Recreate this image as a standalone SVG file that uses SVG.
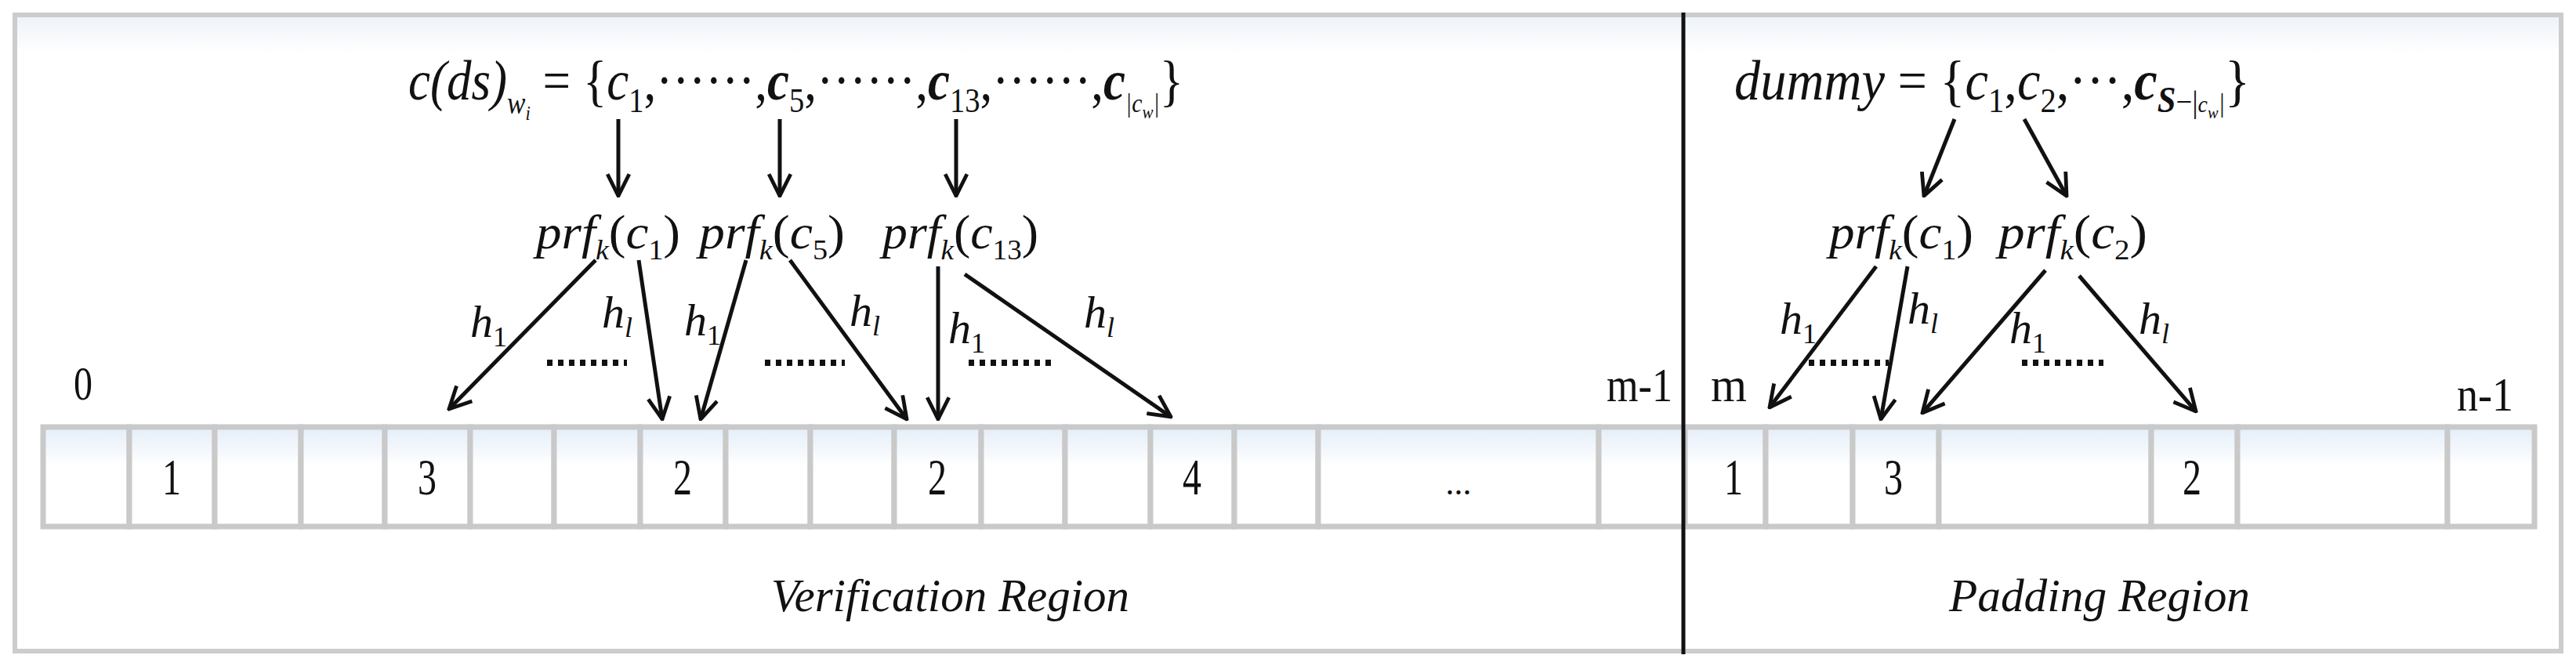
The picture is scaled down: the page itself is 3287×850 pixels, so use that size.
<svg xmlns="http://www.w3.org/2000/svg" width="3287" height="850" viewBox="0 0 3287 850">
<defs>
<linearGradient id="cg" x1="0" y1="0" x2="0" y2="1"><stop offset="0" stop-color="#e4eef8"/><stop offset="0.4" stop-color="#ffffff"/><stop offset="1" stop-color="#ffffff"/></linearGradient>
<linearGradient id="bg" x1="0" y1="0" x2="0" y2="1"><stop offset="0" stop-color="#edf3f9"/><stop offset="0.06" stop-color="#ffffff"/><stop offset="1" stop-color="#ffffff"/></linearGradient>
<marker id="ah" viewBox="0 0 30 30" refX="28" refY="15" markerWidth="32" markerHeight="32" markerUnits="userSpaceOnUse" orient="auto"><polyline points="2,2 28,15 2,28" fill="none" stroke="#111" stroke-width="4.5"/></marker>
<style>
.t{font-family:"Liberation Serif",serif;fill:#111}
.i{font-style:italic}
.b{font-weight:bold}
.cell{fill:url(#cg);stroke:#c9c9c9;stroke-width:7}
.ar{stroke:#111;stroke-width:5;fill:none;marker-end:url(#ah)}
.dots{stroke:#111;stroke-width:8;stroke-dasharray:7 7}
</style>
</defs>
<rect x="19" y="19" width="3249" height="812" fill="url(#bg)" stroke="#cccccc" stroke-width="6"/>
<g id="cells">
<rect class="cell" x="55" y="545" width="110" height="127"/>
<rect class="cell" x="165" y="545" width="109" height="127"/>
<rect class="cell" x="274" y="545" width="110" height="127"/>
<rect class="cell" x="384" y="545" width="107" height="127"/>
<rect class="cell" x="491" y="545" width="109" height="127"/>
<rect class="cell" x="600" y="545" width="107" height="127"/>
<rect class="cell" x="707" y="545" width="110" height="127"/>
<rect class="cell" x="817" y="545" width="109" height="127"/>
<rect class="cell" x="926" y="545" width="108" height="127"/>
<rect class="cell" x="1034" y="545" width="107" height="127"/>
<rect class="cell" x="1141" y="545" width="111" height="127"/>
<rect class="cell" x="1252" y="545" width="107" height="127"/>
<rect class="cell" x="1359" y="545" width="109" height="127"/>
<rect class="cell" x="1468" y="545" width="107" height="127"/>
<rect class="cell" x="1575" y="545" width="107" height="127"/>
<rect class="cell" x="1682" y="545" width="358" height="127"/>
<rect class="cell" x="2040" y="545" width="110" height="127"/>
<rect class="cell" x="2150" y="545" width="103" height="127"/>
<rect class="cell" x="2253" y="545" width="111" height="127"/>
<rect class="cell" x="2364" y="545" width="110" height="127"/>
<rect class="cell" x="2474" y="545" width="271" height="127"/>
<rect class="cell" x="2745" y="545" width="110" height="127"/>
<rect class="cell" x="2855" y="545" width="268" height="127"/>
<rect class="cell" x="3123" y="545" width="111" height="127"/>
</g>
<g id="cell-labels" class="t" font-size="66" text-anchor="middle">
<text x="219" y="631" textLength="24" lengthAdjust="spacingAndGlyphs">1</text><text x="545" y="631" textLength="24" lengthAdjust="spacingAndGlyphs">3</text><text x="871" y="631" textLength="24" lengthAdjust="spacingAndGlyphs">2</text><text x="1196" y="631" textLength="24" lengthAdjust="spacingAndGlyphs">2</text><text x="1521" y="631" textLength="24" lengthAdjust="spacingAndGlyphs">4</text>
<text x="1861" y="631" font-size="44">...</text>
<text x="2212" y="631" textLength="24" lengthAdjust="spacingAndGlyphs">1</text><text x="2416" y="631" textLength="24" lengthAdjust="spacingAndGlyphs">3</text><text x="2797" y="631" textLength="24" lengthAdjust="spacingAndGlyphs">2</text>
</g>
<g id="index-labels" class="t" font-size="62" text-anchor="middle">
<text x="106" y="510" textLength="24" lengthAdjust="spacingAndGlyphs">0</text><text x="2092" y="512" textLength="84" lengthAdjust="spacingAndGlyphs">m-1</text><text x="2206" y="512" textLength="46" lengthAdjust="spacingAndGlyphs">m</text><text x="3171" y="524" textLength="72" lengthAdjust="spacingAndGlyphs">n-1</text>
</g>
<line id="divider" x1="2148" y1="16" x2="2148" y2="835" stroke="#111" stroke-width="5"/>
<g id="formula-left" class="t i">
<text x="521" y="127" font-size="72" textLength="989" lengthAdjust="spacingAndGlyphs">c(ds)<tspan font-size="40" dy="18">w<tspan font-size="26" dy="8">i</tspan></tspan><tspan font-style="normal" dy="-26"> = {</tspan>c<tspan font-style="normal" font-size="44" dy="16">1</tspan><tspan font-style="normal" dy="-16">,······,</tspan><tspan class="b">c</tspan><tspan font-style="normal" font-size="44" dy="16">5</tspan><tspan font-style="normal" dy="-16">,······,</tspan><tspan class="b">c</tspan><tspan font-style="normal" font-size="44" dy="16">13</tspan><tspan font-style="normal" dy="-16">,······,</tspan><tspan class="b">c</tspan><tspan font-size="34" dy="16">|c</tspan><tspan font-size="24" dy="8">w</tspan><tspan font-size="34" dy="-8">|</tspan><tspan font-style="normal" dy="-16">}</tspan></text>
</g>
<g id="formula-right" class="t i">
<text x="2213" y="127" font-size="72" textLength="658" lengthAdjust="spacingAndGlyphs">dummy<tspan font-style="normal"> = {</tspan>c<tspan font-style="normal" font-size="44" dy="16">1</tspan><tspan font-style="normal" dy="-16">,</tspan>c<tspan font-style="normal" font-size="44" dy="16">2</tspan><tspan font-style="normal" dy="-16">,···,</tspan><tspan class="b">c</tspan><tspan class="b" font-size="46" dy="16">S</tspan><tspan font-style="normal" font-size="40">−|</tspan><tspan font-size="30">c</tspan><tspan font-size="22" dy="8">w</tspan><tspan font-size="34" dy="-8">|</tspan><tspan font-style="normal" dy="-16">}</tspan></text>
</g>
<g id="prf-nodes" class="t i" font-size="62">
<text x="684" y="317" textLength="184" lengthAdjust="spacingAndGlyphs">prf<tspan font-size="36" dy="14">k</tspan><tspan font-style="normal" dy="-14">(</tspan>c<tspan font-style="normal" font-size="36" dy="14">1</tspan><tspan font-style="normal" dy="-14">)</tspan></text>
<text x="892" y="317" textLength="186" lengthAdjust="spacingAndGlyphs">prf<tspan font-size="36" dy="14">k</tspan><tspan font-style="normal" dy="-14">(</tspan>c<tspan font-style="normal" font-size="36" dy="14">5</tspan><tspan font-style="normal" dy="-14">)</tspan></text>
<text x="1126" y="317" textLength="199" lengthAdjust="spacingAndGlyphs">prf<tspan font-size="36" dy="14">k</tspan><tspan font-style="normal" dy="-14">(</tspan>c<tspan font-style="normal" font-size="36" dy="14">13</tspan><tspan font-style="normal" dy="-14">)</tspan></text>
<text x="2334" y="317" textLength="184" lengthAdjust="spacingAndGlyphs">prf<tspan font-size="36" dy="14">k</tspan><tspan font-style="normal" dy="-14">(</tspan>c<tspan font-style="normal" font-size="36" dy="14">1</tspan><tspan font-style="normal" dy="-14">)</tspan></text>
<text x="2550" y="317" textLength="190" lengthAdjust="spacingAndGlyphs">prf<tspan font-size="36" dy="14">k</tspan><tspan font-style="normal" dy="-14">(</tspan>c<tspan font-style="normal" font-size="36" dy="14">2</tspan><tspan font-style="normal" dy="-14">)</tspan></text>
</g>
<g id="connectors">
<line class="ar" x1="789" y1="152" x2="789" y2="250"/>
<line class="ar" x1="995" y1="152" x2="995" y2="250"/>
<line class="ar" x1="1220" y1="152" x2="1220" y2="250"/>
<line class="ar" x1="2494" y1="152" x2="2455" y2="250"/>
<line class="ar" x1="2583" y1="152" x2="2637" y2="250"/>
<line class="ar" x1="760" y1="332" x2="573" y2="522"/>
<line class="ar" x1="815" y1="332" x2="845" y2="535"/>
<line class="ar" x1="952" y1="332" x2="894" y2="535"/>
<line class="ar" x1="1008" y1="332" x2="1157" y2="535"/>
<line class="ar" x1="1197" y1="340" x2="1197" y2="535"/>
<line class="ar" x1="1231" y1="350" x2="1494" y2="532"/>
<line class="ar" x1="2394" y1="340" x2="2258" y2="520"/>
<line class="ar" x1="2434" y1="340" x2="2400" y2="535"/>
<line class="ar" x1="2610" y1="345" x2="2453" y2="527"/>
<line class="ar" x1="2653" y1="352" x2="2802" y2="525"/>
<line class="dots" x1="698" y1="463" x2="800" y2="463"/>
<line class="dots" x1="976" y1="463" x2="1078" y2="463"/>
<line class="dots" x1="1236" y1="463" x2="1341" y2="463"/>
<line class="dots" x1="2308" y1="463" x2="2410" y2="463"/>
<line class="dots" x1="2580" y1="463" x2="2684" y2="463"/>
</g>
<g id="hash-labels" class="t i" font-size="58">
<text x="600" y="430">h<tspan font-style="normal" font-size="36" dy="12">1</tspan></text>
<text x="768" y="418">h<tspan font-size="36" dy="12">l</tspan></text>
<text x="873" y="428">h<tspan font-style="normal" font-size="36" dy="12">1</tspan></text>
<text x="1084" y="416">h<tspan font-size="36" dy="12">l</tspan></text>
<text x="1210" y="438">h<tspan font-style="normal" font-size="36" dy="12">1</tspan></text>
<text x="1383" y="418">h<tspan font-size="36" dy="12">l</tspan></text>
<text x="2271" y="426">h<tspan font-style="normal" font-size="36" dy="12">1</tspan></text>
<text x="2434" y="413">h<tspan font-size="36" dy="12">l</tspan></text>
<text x="2564" y="438">h<tspan font-style="normal" font-size="36" dy="12">1</tspan></text>
<text x="2729" y="426">h<tspan font-size="36" dy="12">l</tspan></text>
</g>
<g id="region-labels" class="t i" font-size="60">
<text x="984" y="780" textLength="457" lengthAdjust="spacingAndGlyphs">Verification  Region</text>
<text x="2487" y="780" textLength="384" lengthAdjust="spacingAndGlyphs">Padding  Region</text>
</g>
</svg>
